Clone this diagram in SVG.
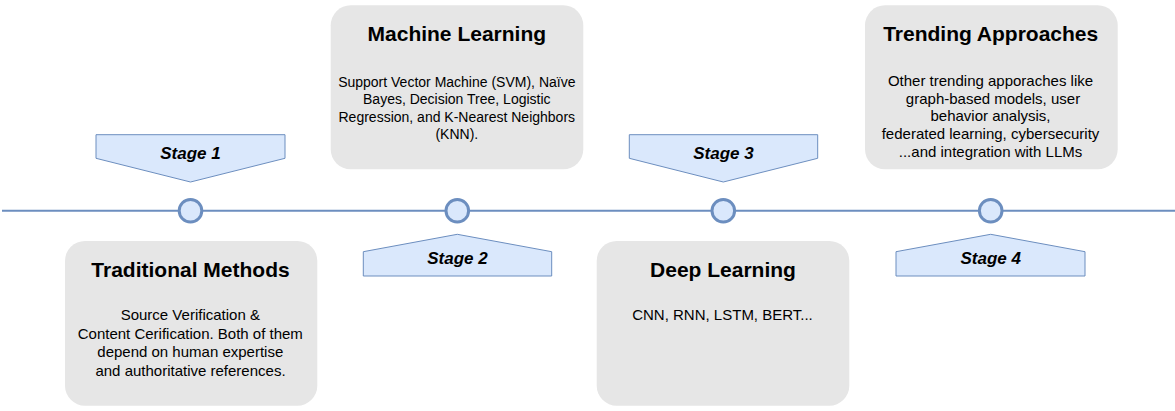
<svg xmlns="http://www.w3.org/2000/svg" width="1175" height="411" viewBox="0 0 1175 411">
<style>
.box{fill:#e6e6e6;stroke:none}
.tag{fill:#dae8fc;stroke:#6c8ebf;stroke-width:1}
.dot{fill:#dae8fc;stroke:#6c8ebf;stroke-width:3}
.axis{stroke:#6c8ebf;stroke-width:2;fill:none}
text{font-family:"Liberation Sans",Arial,sans-serif;fill:#000;text-anchor:middle}
.title{font-size:21px;font-weight:bold}
.body{font-size:15px}
.body14{font-size:14px}
.stage{font-size:17px;font-weight:bold;font-style:italic}
</style>
<rect width="1175" height="411" fill="#ffffff"/>
<g id="connectors">
<line class="axis" x1="2" y1="210.7" x2="1175" y2="210.7"/>
</g>
<g id="dot1"><circle class="dot" cx="190.5" cy="210.7" r="11.3"/></g>
<g id="dot2"><circle class="dot" cx="457.3" cy="210.7" r="11.3"/></g>
<g id="dot3"><circle class="dot" cx="723.3" cy="210.7" r="11.3"/></g>
<g id="dot4"><circle class="dot" cx="990.7" cy="210.7" r="11.3"/></g>

<g id="stage1">
<polygon class="tag" points="96,134.7 285,134.7 285,158.3 190.5,182 96,158.3"/>
<text class="stage" x="190.5" y="159">Stage 1</text>
</g>
<g id="stage2">
<polygon class="tag" points="363.3,276 551.7,276 551.7,251.7 457.3,234.3 363.3,251.7"/>
<text class="stage" x="457.5" y="264">Stage 2</text>
</g>
<g id="stage3">
<polygon class="tag" points="629.3,134.7 817.7,134.7 817.7,158.3 723.3,182 629.3,158.3"/>
<text class="stage" x="723.5" y="159">Stage 3</text>
</g>
<g id="stage4">
<polygon class="tag" points="896,276 1085,276 1085,251.7 990.7,234.3 896,251.7"/>
<text class="stage" x="990.7" y="264">Stage 4</text>
</g>

<g id="traditional">
<rect class="box" x="65" y="241" width="252.3" height="164.7" rx="20" ry="20"/>
<text class="title" x="190.5" y="276.7">Traditional Methods</text>
<text class="body" x="190.3" y="320">Source Verification &amp;</text>
<text class="body" x="190.3" y="338.5">Content Cerification. Both of them</text>
<text class="body" x="190.3" y="357">depend on human expertise</text>
<text class="body" x="190.5" y="375.5">and authoritative references.</text>
</g>

<g id="machine">
<rect class="box" x="330.7" y="5.3" width="252.6" height="164" rx="20" ry="20"/>
<text class="title" x="456.8" y="40.9">Machine Learning</text>
<text class="body14" x="456.8" y="86.7">Support Vector Machine (SVM), Naïve</text>
<text class="body14" x="456.8" y="104.3">Bayes, Decision Tree, Logistic</text>
<text class="body14" x="456.8" y="121.8">Regression, and K-Nearest Neighbors</text>
<text class="body14" x="456.8" y="139.3">(KNN).</text>
</g>

<g id="deep">
<rect class="box" x="596.7" y="241" width="252.6" height="164.7" rx="20" ry="20"/>
<text class="title" x="723" y="276.7">Deep Learning</text>
<text class="body" x="722.5" y="320">CNN, RNN, LSTM, BERT...</text>
</g>

<g id="trending">
<rect class="box" x="865" y="5.3" width="252.7" height="164" rx="20" ry="20"/>
<text class="title" x="990.7" y="41">Trending Approaches</text>
<text class="body" x="990.5" y="85.7">Other trending apporaches like</text>
<text class="body" x="993" y="103.5">graph-based models, user</text>
<text class="body" x="990.5" y="121.3">behavior analysis,</text>
<text class="body" x="990.5" y="139">federated learning, cybersecurity</text>
<text class="body" x="990.5" y="156.7">...and integration with LLMs</text>
</g>
</svg>
